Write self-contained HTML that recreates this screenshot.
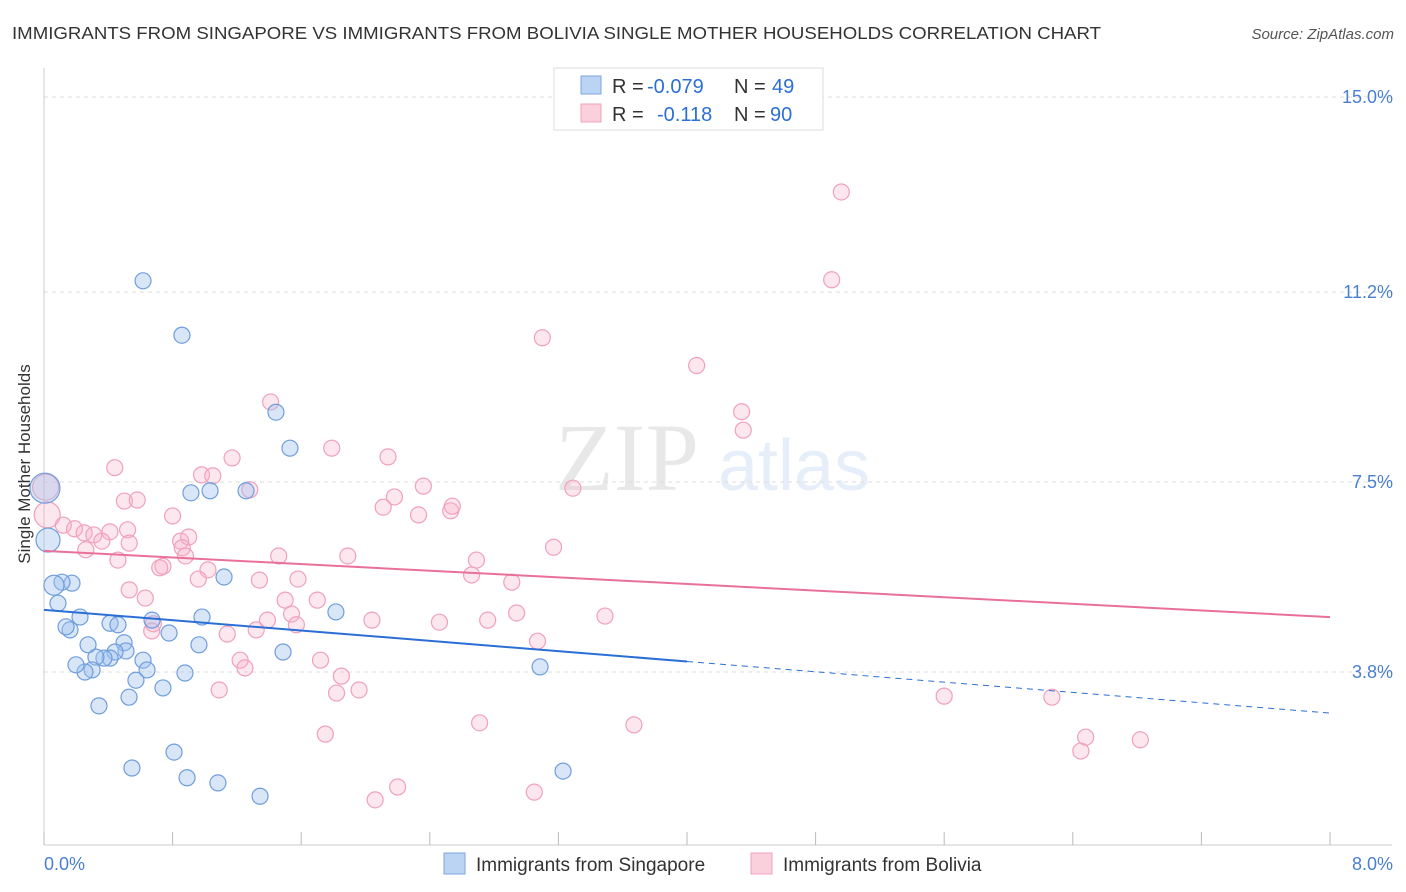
<!DOCTYPE html>
<html><head><meta charset="utf-8"><style>
body{margin:0;background:#fff;font-family:"Liberation Sans",sans-serif;}
svg{display:block}
</style></head><body>
<svg width="1406" height="892">
<text x="12" y="39" font-size="17.5" fill="#333" textLength="1089" lengthAdjust="spacingAndGlyphs">IMMIGRANTS FROM SINGAPORE VS IMMIGRANTS FROM BOLIVIA SINGLE MOTHER HOUSEHOLDS CORRELATION CHART</text>
<text x="1394" y="39" font-size="15" fill="#555" font-style="italic" text-anchor="end">Source: ZipAtlas.com</text>
<g opacity="0.13">
<text x="555" y="490" font-family="Liberation Serif,serif" font-size="96" fill="#555">ZIP</text>
<text x="718" y="490" font-size="72" fill="#4a8ad8">atlas</text>
</g>
<g id="grid"></g>
<g id="axes"></g>
<g id="pts"></g>
<g id="trend"></g>
<text x="22" y="456" font-size="17" fill="#333" transform="rotate(-90 30 456)" text-anchor="middle">Single Mother Households</text>
<text x="44" y="870" font-size="18" fill="#4a7fd0">0.0%</text>
<text x="1393" y="870" font-size="18" fill="#4a7fd0" text-anchor="end">8.0%</text>
<g>
<rect x="554" y="68" width="269" height="62" fill="#fff" stroke="#ddd"/>
<rect x="581" y="76" width="20" height="18" fill="#bcd4f4" stroke="#7aa6e0"/>
<rect x="581" y="104" width="20" height="18" fill="#fbd0dd" stroke="#f0a0bd"/>
<text x="612" y="93" font-size="20" fill="#333">R =</text>
<text x="647" y="93" font-size="20" fill="#2b6fd6">-0.079</text>
<text x="734" y="93" font-size="20" fill="#333">N =</text>
<text x="772" y="93" font-size="20" fill="#2b6fd6">49</text>
<text x="612" y="121" font-size="20" fill="#333">R =</text>
<text x="657" y="121" font-size="20" fill="#2b6fd6">-0.118</text>
<text x="734" y="121" font-size="20" fill="#333">N =</text>
<text x="770" y="121" font-size="20" fill="#2b6fd6">90</text>
</g>
<g>
<rect x="444" y="853" width="21" height="21" fill="#bcd4f4" stroke="#7aa6e0"/>
<text x="476" y="871" font-size="19" fill="#333">Immigrants from Singapore</text>
<rect x="751" y="853" width="21" height="21" fill="#fbd0dd" stroke="#f0a0bd"/>
<text x="783" y="871" font-size="19" fill="#333">Immigrants from Bolivia</text>
</g>
</svg>
<script>
const yTicks=[15.0,11.2,7.5,3.8];
const yTickLabels=["15.0%","11.2%","7.5%","3.8%"];
const xTicks=[0,0.8,1.6,2.4,3.2,4.0,4.8,5.6,6.4,7.2,8.0];
const singX=[0.616,0.858,1.443,1.530,0.914,1.033,1.257,1.120,1.816,3.086,3.229,1.344,1.082,0.890,0.809,0.547,0.342,0.529,0.740,0.877,0.964,0.983,0.778,0.672,0.616,0.641,0.572,0.498,0.510,0.442,0.411,0.373,0.323,0.299,0.255,0.199,0.274,0.411,0.224,0.162,0.137,0.174,0.112,0.087,0.062,0.025,0.006,1.487,0.460];
const singY=[11.42,10.36,8.86,8.16,7.29,7.33,7.33,5.65,4.97,3.90,1.87,1.38,1.64,1.74,2.24,1.93,3.14,3.31,3.49,3.78,4.33,4.87,4.56,4.81,4.03,3.84,3.64,4.37,4.21,4.19,4.07,4.07,4.09,3.84,3.80,3.94,4.33,4.75,4.87,4.62,4.68,5.53,5.55,5.14,5.49,6.37,7.38,4.19,4.72];
const singR=[8,8,8,8,8,8,8,8,8,8,8,8,8,8,8,8,8,8,8,8,8,8,8,8,8,8,8,8,8,8,8,8,8,8,8,8,8,8,8,8,8,8,8,8,10,12,15,8,8];
const bolX=[4.96,4.90,3.10,4.06,4.34,4.35,1.41,1.79,2.14,1.17,0.44,0.98,1.05,1.28,2.36,3.29,2.18,2.11,2.33,2.53,2.54,0.50,0.58,0.80,0.12,0.19,0.25,0.31,0.41,0.52,0.36,0.53,0.26,0.46,0.85,0.90,0.86,1.46,1.89,2.69,3.17,2.66,2.91,0.74,0.72,0.88,1.02,0.96,1.34,1.58,0.53,0.63,1.50,1.70,1.54,1.57,1.39,2.94,2.76,2.46,2.04,3.49,0.68,0.67,1.14,1.32,1.22,1.25,1.72,1.85,1.82,1.96,1.09,1.75,2.71,3.67,3.07,5.60,6.27,6.48,6.45,6.82,2.06,2.20,3.05,0.02,0.01];
const bolY=[13.15,11.44,10.31,9.77,8.87,8.51,9.06,8.16,7.99,7.97,7.78,7.64,7.62,7.35,7.42,7.38,7.21,7.01,6.86,6.94,7.03,7.13,7.15,6.84,6.66,6.59,6.51,6.47,6.53,6.57,6.35,6.31,6.18,5.98,6.35,6.43,6.22,6.06,6.06,5.98,6.23,5.69,5.55,5.86,5.83,6.06,5.79,5.61,5.59,5.61,5.40,5.24,5.20,5.20,4.93,4.72,4.81,4.95,4.81,4.77,4.81,4.89,4.74,4.60,4.54,4.62,4.03,3.88,4.03,3.72,3.39,3.45,3.45,2.59,2.81,2.77,4.40,3.33,3.31,2.53,2.26,2.48,1.31,1.56,1.46,6.86,7.40];
const singTrend=[5.01,3.00];
const bolTrend=[6.16,4.87];
const NS="http://www.w3.org/2000/svg";
const X=v=>44+v*160.75, Y=v=>97+(15-v)*51.34;
function mk(tag,attrs,parent){const e=document.createElementNS(NS,tag);for(const k in attrs)e.setAttribute(k,attrs[k]);parent.appendChild(e);return e;}
const grid=document.getElementById('grid'),axes=document.getElementById('axes'),pts=document.getElementById('pts'),tr=document.getElementById('trend');
yTicks.forEach((t,i)=>{
 const l=mk('line',{x1:44,x2:1392,y1:Y(t),y2:Y(t),stroke:'#ddd','stroke-dasharray':'4,4'},grid);
 
 
 const tx=mk('text',{x:1393,y:Y(t)+6,'font-size':18,fill:'#4a7fd0','text-anchor':'end'},grid);
 tx.textContent=yTickLabels[i];
 
 
});
const la=mk('line',{x1:44,x2:44,y1:68,y2:845,stroke:'#ccc'},axes);


const lb=mk('line',{x1:44,x2:1392,y1:845,y2:845,stroke:'#ccc'},axes);


xTicks.forEach(t=>{
 const l=mk('line',{x1:X(t),x2:X(t),y1:832,y2:845,stroke:'#bbb'},axes);
 
 
});
bolX.forEach((x,i)=>{
 const r=(i>=bolX.length-2)?13:8;
 const c=mk('circle',{cx:X(x),cy:Y(bolY[i]),r:r,fill:'rgba(247,175,200,0.3)',stroke:'#f0a0bd','stroke-width':1.2},pts);
 
 
});
singX.forEach((x,i)=>{
 const c=mk('circle',{cx:X(x),cy:Y(singY[i]),r:singR[i],fill:'rgba(160,192,238,0.4)',stroke:'#6f9edd','stroke-width':1.2},pts);
 
 
});
const sy=x=>singTrend[0]+(singTrend[1]-singTrend[0])*x/8;
const by=x=>bolTrend[0]+(bolTrend[1]-bolTrend[0])*x/8;
let t1=mk('line',{x1:X(0),y1:Y(sy(0)),x2:X(4),y2:Y(sy(4)),stroke:'#2b6fd6','stroke-width':2},tr);


let t2=mk('line',{x1:X(4),y1:Y(sy(4)),x2:X(8),y2:Y(sy(8)),stroke:'#2b6fd6','stroke-width':1,'stroke-dasharray':'6,5'},tr);


let t3=mk('line',{x1:X(0),y1:Y(by(0)),x2:X(8),y2:Y(by(8)),stroke:'#e8709a','stroke-width':2},tr);


</script>
</body></html>
